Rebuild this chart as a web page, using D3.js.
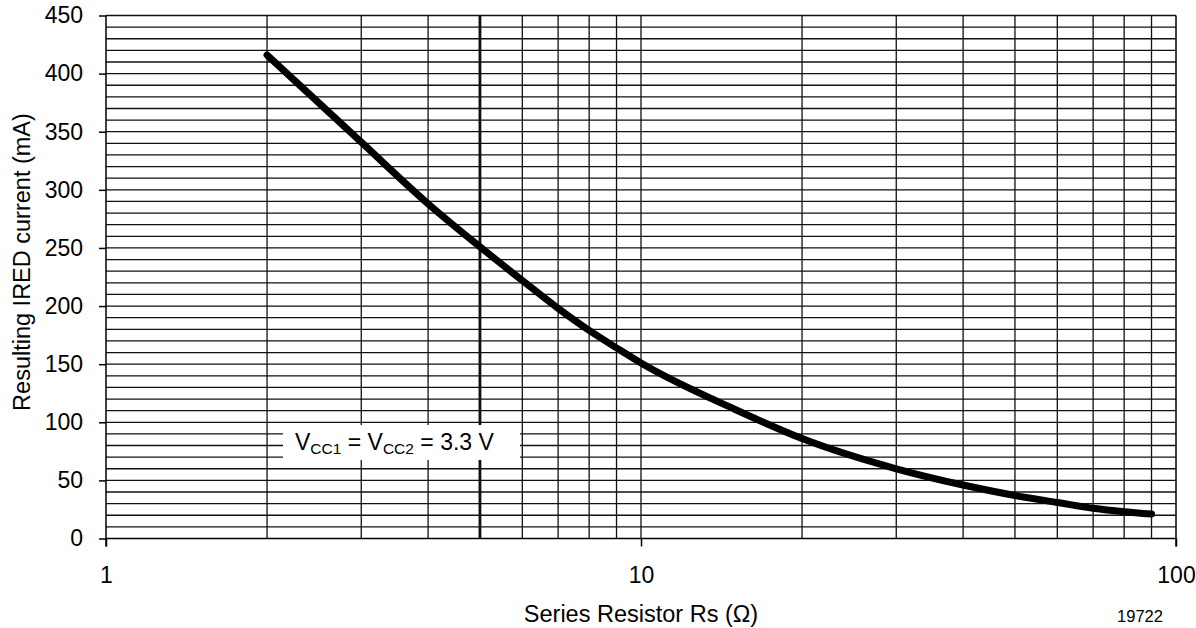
<!DOCTYPE html>
<html>
<head>
<meta charset="utf-8">
<script src="https://cdn.jsdelivr.net/npm/d3@7"></script>
<style>
  html, body { margin: 0; padding: 0; background: #fff; }
  svg { display: block; }
  text { font-family: "Liberation Sans", Arial, Helvetica, sans-serif; fill: #000; }
</style>
</head>
<body>
<svg id="chart" width="1196" height="628"></svg>
<script>
// Series resistor (Ω) vs resulting IRED current (mA)
const resistance = [2, 3, 4, 5, 6, 7, 8, 9, 10, 15, 20, 30, 40, 50, 60, 70, 80, 90];
const current    = [416, 341, 288, 251, 222, 198, 179, 164, 151, 111, 86, 60, 46, 37, 31, 26, 23, 21];

const xDecades    = [1, 10, 100];
const xTickLabels = ["1", "10", "100"];
const xMinorGrid  = [2, 3, 4, 5, 6, 7, 8, 9, 10, 20, 30, 40, 50, 60, 70, 80, 90];
const xHeavyLine  = [5];
const yTicks      = [0, 50, 100, 150, 200, 250, 300, 350, 400, 450];
const yGrid       = d3.range(10, 451, 10);

const svg = d3.select("#chart");
const plotL = 106, plotR = 1176, plotT = 15.5, plotB = 538.5;

const x = d3.scaleLog().domain([1, 100]).range([plotL, plotR]);
const y = d3.scaleLinear().domain([0, 450]).range([plotB, plotT]);

const gridColor = "#111";
const fontFamily = "Liberation Sans, Arial, sans-serif";

// horizontal grid every 10 mA
svg.append("g").selectAll("line").data(yGrid).join("line")
  .attr("x1", plotL).attr("x2", plotR)
  .attr("y1", d => y(d)).attr("y2", d => y(d))
  .attr("stroke", gridColor).attr("stroke-width", 1.3);

// vertical grid at 2..9, 10..90
svg.append("g").selectAll("line").data(xMinorGrid).join("line")
  .attr("x1", d => x(d)).attr("x2", d => x(d))
  .attr("y1", plotT).attr("y2", plotB)
  .attr("stroke", gridColor)
  .attr("stroke-width", d => xHeavyLine.includes(d) ? 2.8 : 1.3);

// frame: left and bottom axes plus right border
const axisColor = "#000";
svg.append("line").attr("x1", plotL).attr("x2", plotL).attr("y1", plotT).attr("y2", plotB + 8)
  .attr("stroke", axisColor).attr("stroke-width", 1.5);
svg.append("line").attr("x1", plotR).attr("x2", plotR).attr("y1", plotT).attr("y2", plotB + 8)
  .attr("stroke", axisColor).attr("stroke-width", 1.5);
svg.append("line").attr("x1", plotL).attr("x2", plotR).attr("y1", plotB).attr("y2", plotB)
  .attr("stroke", axisColor).attr("stroke-width", 1.5);

// y axis ticks and labels
const yAxis = d3.axisLeft(y).tickValues(yTicks).tickSize(7).tickPadding(16);
const gy = svg.append("g").attr("transform", `translate(${plotL},0)`).call(yAxis);
gy.select(".domain").remove();
gy.selectAll(".tick line").attr("stroke", axisColor).attr("stroke-width", 1.5);
gy.selectAll(".tick text").attr("font-size", 23).attr("font-family", fontFamily);

// x axis decade ticks and labels
const xAxis = d3.axisBottom(x).tickValues(xDecades)
  .tickFormat((d, i) => xTickLabels[i]).tickSize(8).tickPadding(20);
const gx = svg.append("g").attr("transform", `translate(0,${plotB})`).call(xAxis);
gx.select(".domain").remove();
gx.selectAll(".tick line").attr("stroke", axisColor).attr("stroke-width", 1.5);
gx.selectAll(".tick text").attr("font-size", 23).attr("font-family", fontFamily);

// annotation box
const note = svg.append("g");
note.append("rect").attr("x", 283).attr("y", 425).attr("width", 237).attr("height", 35).attr("fill", "#fff");
const t = note.append("text").attr("x", 295).attr("y", 450).attr("font-size", 23);
t.append("tspan").text("V");
t.append("tspan").attr("font-size", 15.5).attr("dy", 4).text("CC1");
t.append("tspan").attr("dy", -4).text(" = V");
t.append("tspan").attr("font-size", 15.5).attr("dy", 4).text("CC2");
t.append("tspan").attr("dy", -4).text(" = 3.3 V");

// curve
const line = d3.line()
  .x((d, i) => x(resistance[i]))
  .y(d => y(d))
  .curve(d3.curveMonotoneX);
svg.append("path").datum(current)
  .attr("d", line)
  .attr("fill", "none").attr("stroke", "#000")
  .attr("stroke-width", 7).attr("stroke-linecap", "round").attr("stroke-linejoin", "round");

// axis titles
svg.append("text").attr("x", (plotL + plotR) / 2).attr("y", 622)
  .attr("text-anchor", "middle").attr("font-size", 23.5)
  .text("Series Resistor Rs (Ω)");
svg.append("text")
  .attr("transform", "translate(30,262) rotate(-90)")
  .attr("text-anchor", "middle").attr("font-size", 23.5)
  .text("Resulting IRED current (mA)");

// figure number
svg.append("text").attr("x", 1140).attr("y", 622).attr("text-anchor", "middle")
  .attr("font-size", 16.5).text("19722");
</script>
</body>
</html>
